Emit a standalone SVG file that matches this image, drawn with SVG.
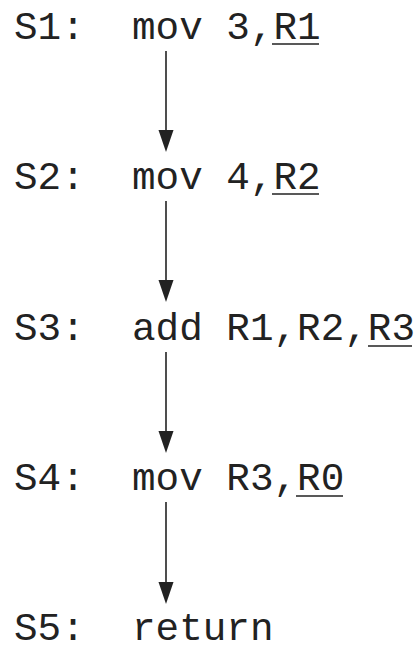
<svg xmlns="http://www.w3.org/2000/svg" width="416" height="646" viewBox="0 0 416 646">
<style>
text{font-family:"Liberation Mono","DejaVu Sans Mono",monospace;font-size:39.3px;fill:#222}
.ul{stroke:#222;stroke-width:1.6}
.edge{stroke:#222;stroke-width:1.6;fill:none}
.head{fill:#222}
</style>
<rect width="416" height="646" fill="#fff"/>
<g id="S1">
<text x="14" y="39">S1:</text><text x="132" y="39">mov 3,R1</text>
<line class="ul" x1="272" y1="44" x2="319" y2="44"/>
</g>
<g id="S2">
<text x="14" y="189">S2:</text><text x="132" y="189">mov 4,R2</text>
<line class="ul" x1="272" y1="194" x2="319" y2="194"/>
</g>
<g id="S3">
<text x="14" y="340">S3:</text><text x="132" y="340">add R1,R2,R3</text>
<line class="ul" x1="368" y1="346" x2="412" y2="346"/>
</g>
<g id="S4">
<text x="14" y="490">S4:</text><text x="132" y="490">mov R3,R0</text>
<line class="ul" x1="296" y1="496" x2="343" y2="496"/>
</g>
<g id="S5">
<text x="14" y="640">S5:</text><text x="132" y="640">return</text>
</g>
<g id="edges">
<line class="edge" x1="166" y1="51" x2="166" y2="135"/>
<polygon class="head" points="166,152 158.5,130 173.5,130"/>
<line class="edge" x1="166" y1="201" x2="166" y2="285"/>
<polygon class="head" points="166,302 158.5,280 173.5,280"/>
<line class="edge" x1="166" y1="352" x2="166" y2="436"/>
<polygon class="head" points="166,453 158.5,431 173.5,431"/>
<line class="edge" x1="166" y1="502" x2="166" y2="586"/>
<polygon class="head" points="166,604 158.5,582 173.5,582"/>
</g>
</svg>
